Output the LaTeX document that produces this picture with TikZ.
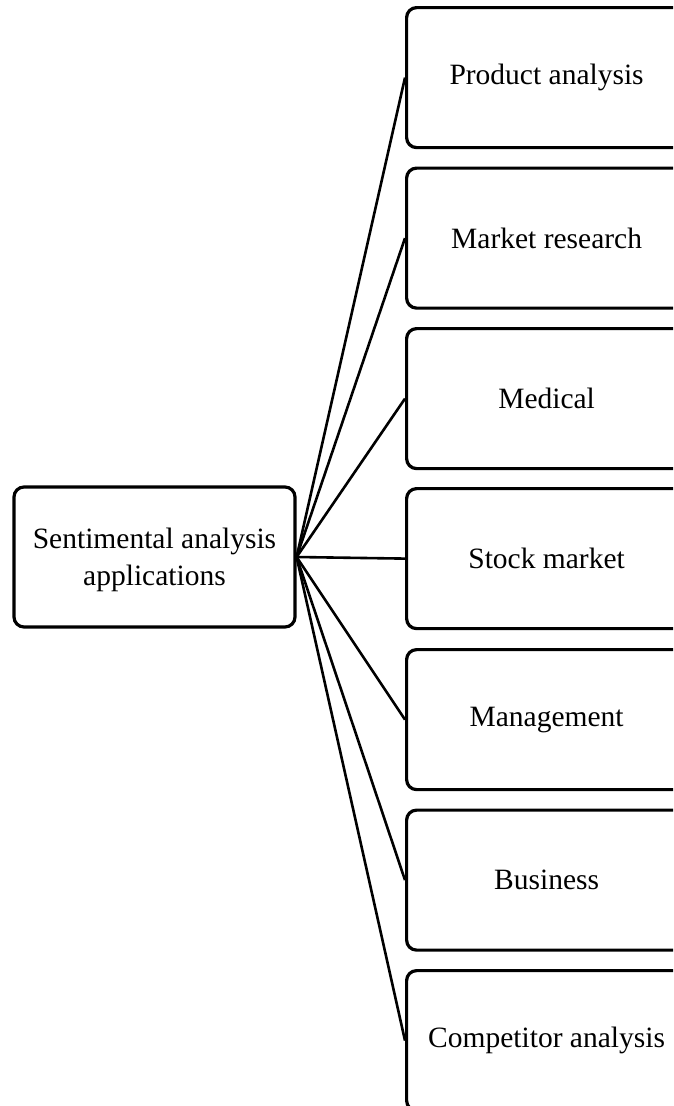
\documentclass[tikz,border=0pt]{standalone}
\usepackage{fontspec}
\setmainfont{Liberation Serif}
\begin{document}
\begin{tikzpicture}[x=1pt,y=-1pt,
  rbox/.style={draw, line width=3.2pt, rounded corners=10pt, minimum width=280pt, minimum height=140pt, inner sep=0pt, anchor=north west},
  root/.style={draw, line width=3.2pt, rounded corners=10pt, minimum width=281pt, minimum height=140pt, inner sep=0pt, align=center},
  link/.style={line width=2.6pt},
  every node/.style={font=\fontsize{29.5}{37}\selectfont}]
\useasboundingbox (0,0) rectangle (673,1106);
\clip (0,0) rectangle (673,1106);
% central box and its two-line caption
\node[root] (root) at (154.5,557) {};
\node[align=center] (rootlabel) at (154.5,560) {Sentimental analysis\\applications};
% application boxes, running off the right edge
\node[rbox] (b1) at (405,6) {Product analysis};
\node[rbox] (b2) at (405,166.5) {Market research};
\node[rbox] (b3) at (405,327) {Medical};
\node[rbox] (b4) at (405,487) {Stock market};
\node[rbox] (b5) at (405,648) {Management};
\node[rbox] (b6) at (405,808.5) {Business};
\node[rbox] (b7) at (405,969) {Competitor analysis};
\foreach \b in {b1,b2,b3,b4,b5,b6,b7}
  \draw[link] (root.east) -- (\b.west);
\end{tikzpicture}
\end{document}
